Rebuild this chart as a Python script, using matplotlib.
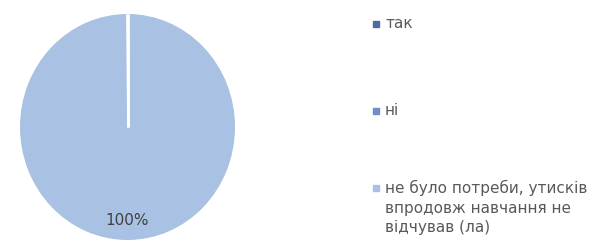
import matplotlib
matplotlib.use('Agg')
import matplotlib.pyplot as plt
import numpy as np
from matplotlib.patches import Rectangle

labels = ['так', 'ні', 'не було потреби, утисків\nвпродовж навчання не\nвідчував (ла)']
values = [0, 0, 100]
colors = ['#4F6D9C', '#6E8FC4', '#A9C1E2']

plt.rcParams['font.family'] = ['DejaVu Sans']

fig = plt.figure(figsize=(6.03, 2.49), dpi=100)
# the reference pie is slightly taller than wide
ax = fig.add_axes([20 / 603, 9 / 249, 215 / 603, 226 / 249])

wedges, texts, autotexts = ax.pie(
    values, colors=colors, startangle=90, counterclock=False,
    autopct=lambda p: '%.0f%%' % p if p > 0 else '',
    pctdistance=0.83,
    wedgeprops=dict(edgecolor='none'),
    textprops=dict(color='#404040', fontsize=11))
ax.set_xlim(-1, 1)
ax.set_ylim(-1, 1)
ax.set_aspect('auto')

# white border between the (empty) slices and the full one
for w in wedges[:-1]:
    cx, cy = w.center
    t = np.deg2rad(w.theta1)
    ax.plot([cx, cx + w.r * np.cos(t)], [cy, cy + w.r * np.sin(t)],
            color='white', lw=2, solid_capstyle='butt')

# legend, Excel-style: items spread down the right side
rows_y = [24, 111, 188]
for lab, col, y in zip(labels, colors, rows_y):
    fig.patches.append(Rectangle((373 / 603, 1 - (y + 3) / 249), 6 / 603, 6 / 249,
                                 transform=fig.transFigure, color=col))
    fig.text(385 / 603, 1 - (y - 8) / 249, lab, fontsize=11, color='#595959',
             va='top', ha='left', linespacing=1.38)

fig.savefig('out.png', dpi=100)
